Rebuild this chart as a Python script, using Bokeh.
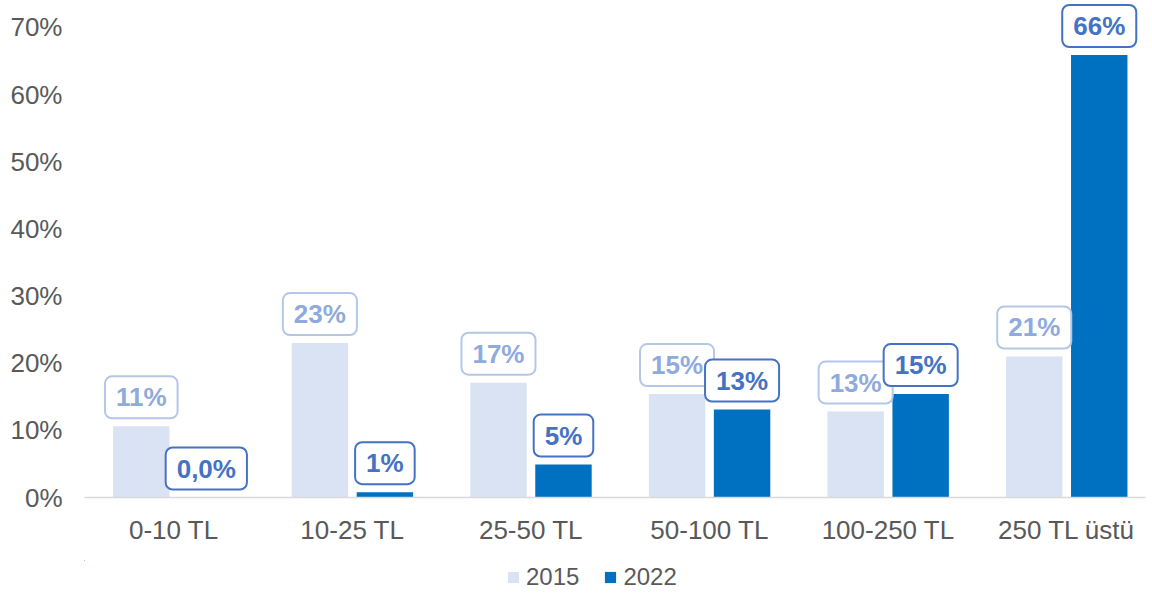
from bokeh.plotting import figure
from bokeh.layouts import column
from bokeh.models import ColumnDataSource, FixedTicker, Legend, LegendItem, Range1d
from bokeh.core.properties import value
from bokeh.embed import file_html
from bokeh.resources import INLINE

categories = ["0-10 TL", "10-25 TL", "25-50 TL", "50-100 TL", "100-250 TL", "250 TL üstü"]
values_2015 = [10.6, 23.0, 17.1, 15.4, 12.8, 21.0]
values_2022 = [0.0, 0.8, 4.9, 13.1, 15.4, 65.9]
labels_2015 = ["11%", "23%", "17%", "15%", "13%", "21%"]
labels_2022 = ["0,0%", "1%", "5%", "13%", "15%", "66%"]
y_ticks = [0, 10, 20, 30, 40, 50, 60, 70]
y_tick_labels = ["0%", "10%", "20%", "30%", "40%", "50%", "60%", "70%"]
series_names = ["2015", "2022"]

FONT = "Liberation Sans"
C15 = "#dae3f3"
C22 = "#0070c0"

idx = list(range(len(categories)))
off = 0.182
bw = 0.316

src15 = ColumnDataSource(dict(x=[i - off for i in idx], top=values_2015, lab=labels_2015))
src22 = ColumnDataSource(dict(x=[i + off for i in idx], top=values_2022, lab=labels_2022))

p = figure(width=1152, height=560, output_backend="svg", toolbar_location=None,
           x_range=Range1d(-0.5, 5.441), y_range=Range1d(0, 74.02),
           min_border_left=84, min_border_right=7, min_border_top=0, min_border_bottom=63)
p.outline_line_color = None
p.xgrid.grid_line_color = None
p.ygrid.grid_line_color = None

p.vbar(x="x", top="top", width=bw, source=src15, fill_color=C15, line_color=None)
p.vbar(x="x", top="top", width=bw, source=src22, fill_color=C22, line_color=None)

p.text(x="x", y="top", text="lab", source=src15, text_align="center", text_baseline="bottom",
       anchor="bottom_center", y_offset=-8,
       text_font=value(FONT), text_font_style="bold", text_font_size="26px", text_color="#8faadc",
       padding=(11, 6), border_radius=7, background_fill_color="white",
       border_line_color="#b4c7e7", border_line_width=2)
p.text(x="x", y="top", text="lab", source=src22, text_align="center", text_baseline="bottom",
       anchor="bottom_center", y_offset=-8,
       text_font=value(FONT), text_font_style="bold", text_font_size="26px", text_color="#4472c4",
       padding=(11, 6), border_radius=7, background_fill_color="white",
       border_line_color="#4472c4", border_line_width=2)

# axes
p.xaxis.ticker = FixedTicker(ticks=idx)
p.xaxis.major_label_overrides = {i: c for i, c in zip(idx, categories)}
p.xaxis.major_tick_line_color = None
p.xaxis.minor_tick_line_color = None
p.xaxis.axis_line_color = "#d9d9d9"
p.xaxis.axis_line_width = 1.5
p.xaxis.major_label_standoff = 11
p.xaxis.major_label_text_font = FONT
p.xaxis.major_label_text_font_size = "26px"
p.xaxis.major_label_text_color = "#595959"

p.yaxis.ticker = FixedTicker(ticks=y_ticks)
p.yaxis.major_label_overrides = {t: l for t, l in zip(y_ticks, y_tick_labels)}
p.yaxis.major_tick_line_color = None
p.yaxis.minor_tick_line_color = None
p.yaxis.axis_line_color = None
p.yaxis.major_label_standoff = 16
p.yaxis.major_label_text_font = FONT
p.yaxis.major_label_text_font_size = "26px"
p.yaxis.major_label_text_color = "#595959"

# legend strip (its ranges exclude the bars, so only the legend shows)
lf = figure(width=1152, height=33, output_backend="svg", toolbar_location=None,
            x_axis_type=None, y_axis_type=None,
            x_range=Range1d(100, 101), y_range=Range1d(-2, -1),
            min_border_left=0, min_border_right=0, min_border_top=0, min_border_bottom=0)
lf.grid.visible = False
lf.outline_line_color = None
lr15 = lf.vbar(x="x", top="top", width=bw, source=src15, fill_color=C15, line_color=None)
lr22 = lf.vbar(x="x", top="top", width=bw, source=src22, fill_color=C22, line_color=None)
legend = Legend(items=[LegendItem(label=series_names[0], renderers=[lr15]),
                       LegendItem(label=series_names[1], renderers=[lr22])],
                orientation="horizontal", location=(422, 2),
                glyph_width=14, glyph_height=14, label_standoff=6, spacing=24,
                label_text_font=FONT, label_text_font_size="24px", label_text_color="#595959",
                border_line_color=None, background_fill_alpha=0, padding=0, margin=0)
lf.add_layout(legend, "center")

open("out.html", "w").write(file_html(column(p, lf, spacing=0), INLINE))
